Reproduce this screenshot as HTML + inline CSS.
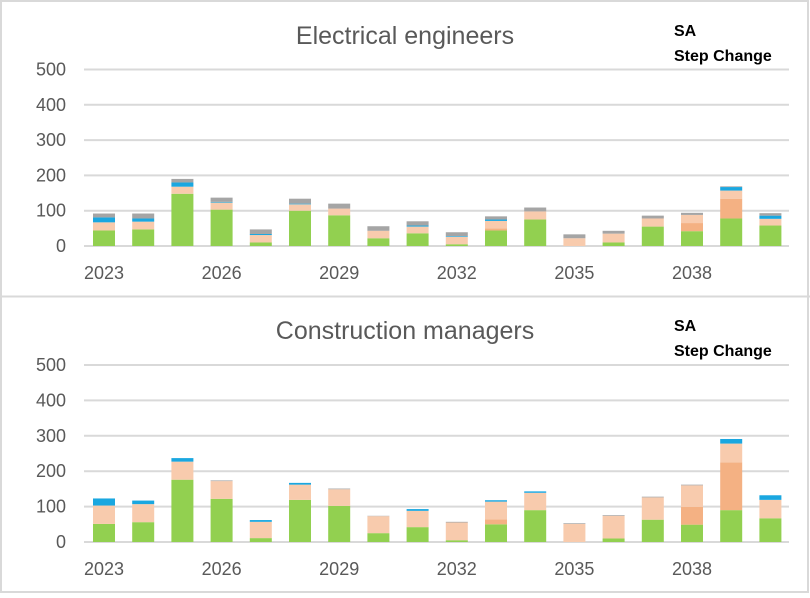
<!DOCTYPE html>
<html><head><meta charset="utf-8"><style>
body{margin:0;background:#fff;}
svg text{font-family:"Liberation Sans",sans-serif;}
</style></head><body>
<svg id="c" width="810" height="593" xmlns="http://www.w3.org/2000/svg">
<rect x="1" y="1" width="807" height="591" fill="#fff" stroke="#d9d9d9" stroke-width="2"/>
<line x1="0" y1="296.5" x2="810" y2="296.5" stroke="#d9d9d9" stroke-width="2"/>
</svg>
<script>
const categories = ["2023","2024","2025","2026","2027","2028","2029","2030","2031","2032","2033","2034","2035","2036","2037","2038","2039","2040"];
const tickLabels = ["0","100","200","300","400","500"];
const tickValues = [0,100,200,300,400,500];
const seriesNames = ["green","orange","peach","blue","gray"];
const seriesColors = ["#92d050","#f4b183","#f8cbad","#1aa7e0","#a5a5a5"];
const eeGreen  = [44,47,148,103,10,100,87,22,36,5,44,75,0,10,55,42,78,58];
const eeOrange = [0,0,0,0,0,0,0,0,0,0,6,0,0,0,0,23,56,0];
const eePeach  = [23,22,20,20,21,18,19,21,19,21,21,23,22,25,23,23,23,19];
const eeBlue   = [14,9,12,2,3,2,0,0,3,2,4,0,0,0,0,0,10,9];
const eeGray   = [11,14,10,12,13,14,14,13,12,11,9,11,11,8,8,6,2,7];
const cmGreen  = [51,56,176,122,11,119,102,25,42,5,50,90,0,10,63,49,90,67];
const cmOrange = [0,0,0,0,0,0,0,0,0,0,14,0,0,0,0,50,135,0];
const cmPeach  = [52,51,51,50,46,43,47,48,46,50,50,49,51,64,63,61,53,52];
const cmBlue   = [20,10,10,0,5,5,0,0,5,0,4,4,0,0,0,0,13,13];
const cmGray   = [0,0,0,2,0,0,2,1,0,2,0,0,2,2,2,2,0,0];

const svg = document.getElementById('c');
const NS = "http://www.w3.org/2000/svg";
function mk(tag, attrs){const e=document.createElementNS(NS,tag);for(const k in attrs)e.setAttribute(k,attrs[k]);svg.appendChild(e);return e;}

function panel(prefix, title, titleY, zeroY, pxPer100, labelY, series){
  const y = v => zeroY - v*pxPer100/100;
  const x0 = 104, step = 39.2, bw = 22;
  const x = i => x0 + i*step;
  let t = mk('text',{x:405,y:titleY,'font-size':25,fill:'#595959','text-anchor':'middle'});
  t.textContent = title;
  
  
  let s1 = mk('text',{x:674,y:titleY-8,'font-size':16,'font-weight':'bold',fill:'#000'});
  s1.textContent = 'SA';
  
  
  let s2 = mk('text',{x:674,y:titleY+17,'font-size':16,'font-weight':'bold',fill:'#000'});
  s2.textContent = 'Step Change';
  
  
  tickValues.forEach((v,i)=>{
    const g = mk('line',{x1:84,x2:789,y1:y(v),y2:y(v),stroke:'#d9d9d9','stroke-width':2});
    
    
    const l = mk('text',{x:66,y:y(v)+6,'font-size':18,fill:'#595959','text-anchor':'end'});
    l.textContent = tickLabels[i];
    
    
  });
  categories.forEach((c,i)=>{
    let acc = 0;
    series.forEach((arr,si)=>{
      const v = arr[i];
      if(v>0){
        const r = mk('rect',{x:x(i)-bw/2,y:y(acc+v),width:bw,height:y(acc)-y(acc+v),fill:seriesColors[si]});
        
        
      }
      acc += v;
    });
    if(i%3===0){
      const l = mk('text',{x:x(i),y:labelY,'font-size':18,fill:'#595959','text-anchor':'middle'});
      l.textContent = c;
      
      
    }
  });
}
panel('electrical-engineers','Electrical engineers',44,246,35.3,279,[eeGreen,eeOrange,eePeach,eeBlue,eeGray]);
panel('construction-managers','Construction managers',339,542,35.4,575,[cmGreen,cmOrange,cmPeach,cmBlue,cmGray]);
</script>
</body></html>
